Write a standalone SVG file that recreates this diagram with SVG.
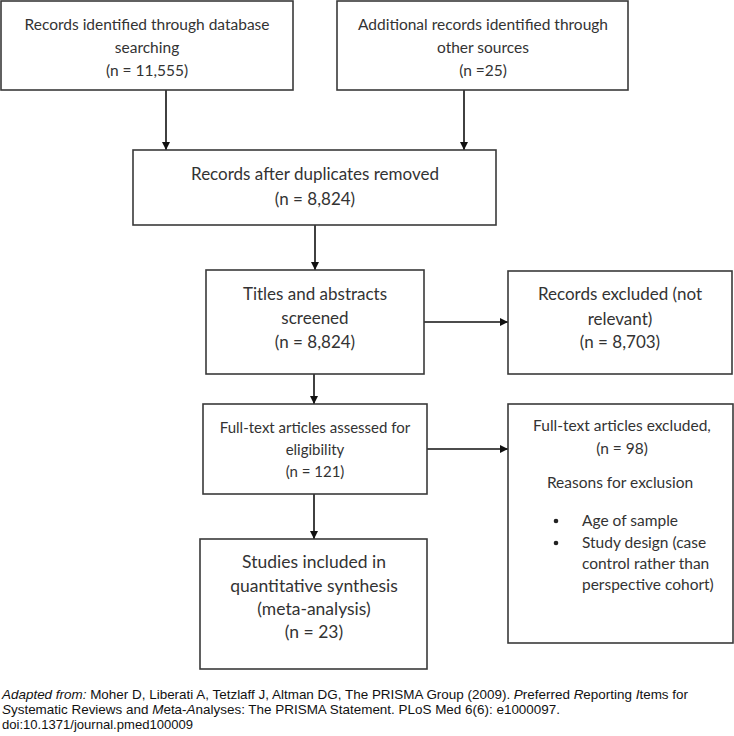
<svg xmlns="http://www.w3.org/2000/svg" width="734" height="736" viewBox="0 0 734 736">
<defs>
<marker id="ah" markerWidth="8" markerHeight="8" refX="8" refY="4" orient="auto" markerUnits="userSpaceOnUse">
<path d="M0,0 L8,4 L0,8 Z" fill="#111"/>
</marker>
<style>
.box{fill:#fff;stroke:#3a3a3a;stroke-width:1.6}
.t{font-family:Lato,"Open Sans",sans-serif;fill:#333;text-anchor:middle}
.l{font-family:Lato,"Open Sans",sans-serif;fill:#333}
.c{font-family:"Liberation Sans",Arial,sans-serif;font-size:13px;fill:#111}
.e{stroke:#111;stroke-width:1.6;fill:none;marker-end:url(#ah)}
</style>
</defs>
<rect width="734" height="736" fill="#fff"/>
<g id="connectors">
<line class="e" x1="166" y1="90" x2="166" y2="150"/>
<line class="e" x1="464" y1="90" x2="464" y2="150"/>
<line class="e" x1="315" y1="225" x2="315" y2="270"/>
<line class="e" x1="424" y1="322" x2="508" y2="322"/>
<line class="e" x1="314" y1="374" x2="314" y2="404"/>
<line class="e" x1="427" y1="449" x2="508" y2="449"/>
<line class="e" x1="314" y1="494" x2="314" y2="539"/>
</g>
<g id="n1">
<rect class="box" x="1" y="1" width="292" height="89"/>
<text class="t" font-size="15.5" x="147" y="30">Records identified through database</text>
<text class="t" font-size="15.5" x="147" y="53">searching</text>
<text class="t" font-size="15.5" x="147" y="76">(n = 11,555)</text>
</g>
<g id="n2">
<rect class="box" x="337" y="1" width="291" height="89"/>
<text class="t" font-size="15.5" x="483" y="30">Additional records identified through</text>
<text class="t" font-size="15.5" x="483" y="53">other sources</text>
<text class="t" font-size="15.5" x="483" y="76">(n =25)</text>
</g>
<g id="n3">
<rect class="box" x="133" y="150" width="363" height="75"/>
<text class="t" font-size="17" x="315" y="180">Records after duplicates removed</text>
<text class="t" font-size="17" x="315" y="205">(n = 8,824)</text>
</g>
<g id="n4">
<rect class="box" x="206" y="270" width="218" height="104"/>
<text class="t" font-size="17" x="315" y="300">Titles and abstracts</text>
<text class="t" font-size="17" x="315" y="324">screened</text>
<text class="t" font-size="17" x="315" y="348">(n = 8,824)</text>
</g>
<g id="n5">
<rect class="box" x="508" y="271" width="224" height="103"/>
<text class="t" font-size="17" x="620" y="300">Records excluded (not</text>
<text class="t" font-size="17" x="620" y="325">relevant)</text>
<text class="t" font-size="17" x="620" y="348">(n = 8,703)</text>
</g>
<g id="n6">
<rect class="box" x="203" y="404" width="224" height="90"/>
<text class="t" font-size="15" x="315" y="433">Full-text articles assessed for</text>
<text class="t" font-size="15" x="315" y="455">eligibility</text>
<text class="t" font-size="15" x="315" y="477">(n = 121)</text>
</g>
<g id="n7">
<rect class="box" x="200" y="539" width="227" height="130"/>
<text class="t" font-size="17.5" x="314" y="568">Studies included in</text>
<text class="t" font-size="17.5" x="314" y="592">quantitative synthesis</text>
<text class="t" font-size="17.5" x="314" y="615">(meta-analysis)</text>
<text class="t" font-size="17.5" x="314" y="638">(n = 23)</text>
</g>
<g id="n8">
<rect class="box" x="508" y="404" width="225" height="239"/>
<text class="t" font-size="15.5" x="622" y="431">Full-text articles excluded,</text>
<text class="t" font-size="15.5" x="622" y="454">(n = 98)</text>
<text class="t" font-size="15.5" x="620" y="488">Reasons for exclusion</text>
<circle cx="556" cy="521" r="2.3" fill="#222"/>
<circle cx="556" cy="543" r="2.3" fill="#222"/>
<text class="l" font-size="15.5" x="582" y="526">Age of sample</text>
<text class="l" font-size="15.5" x="582" y="548">Study design (case</text>
<text class="l" font-size="15.5" x="582" y="569">control rather than</text>
<text class="l" font-size="15.5" x="582" y="590">perspective cohort)</text>
</g>
<g id="caption" xml:space="preserve">
<text class="c" x="2" y="699" textLength="686" lengthAdjust="spacingAndGlyphs"><tspan font-style="italic">Adapted from:</tspan>  Moher D, Liberati A, Tetzlaff J, Altman DG, The PRISMA Group (2009). <tspan font-style="italic">P</tspan>referred <tspan font-style="italic">R</tspan>eporting <tspan font-style="italic">I</tspan>tems for</text>
<text class="c" x="2" y="714" textLength="558" lengthAdjust="spacingAndGlyphs"><tspan font-style="italic">S</tspan>ystematic  Reviews and <tspan font-style="italic">M</tspan>eta-<tspan font-style="italic">A</tspan>nalyses: The PRISMA Statement. PLoS Med 6(6): e1000097.</text>
<text class="c" x="2" y="729" textLength="191" lengthAdjust="spacingAndGlyphs">doi:10.1371/journal.pmed100009</text>
</g>
</svg>
